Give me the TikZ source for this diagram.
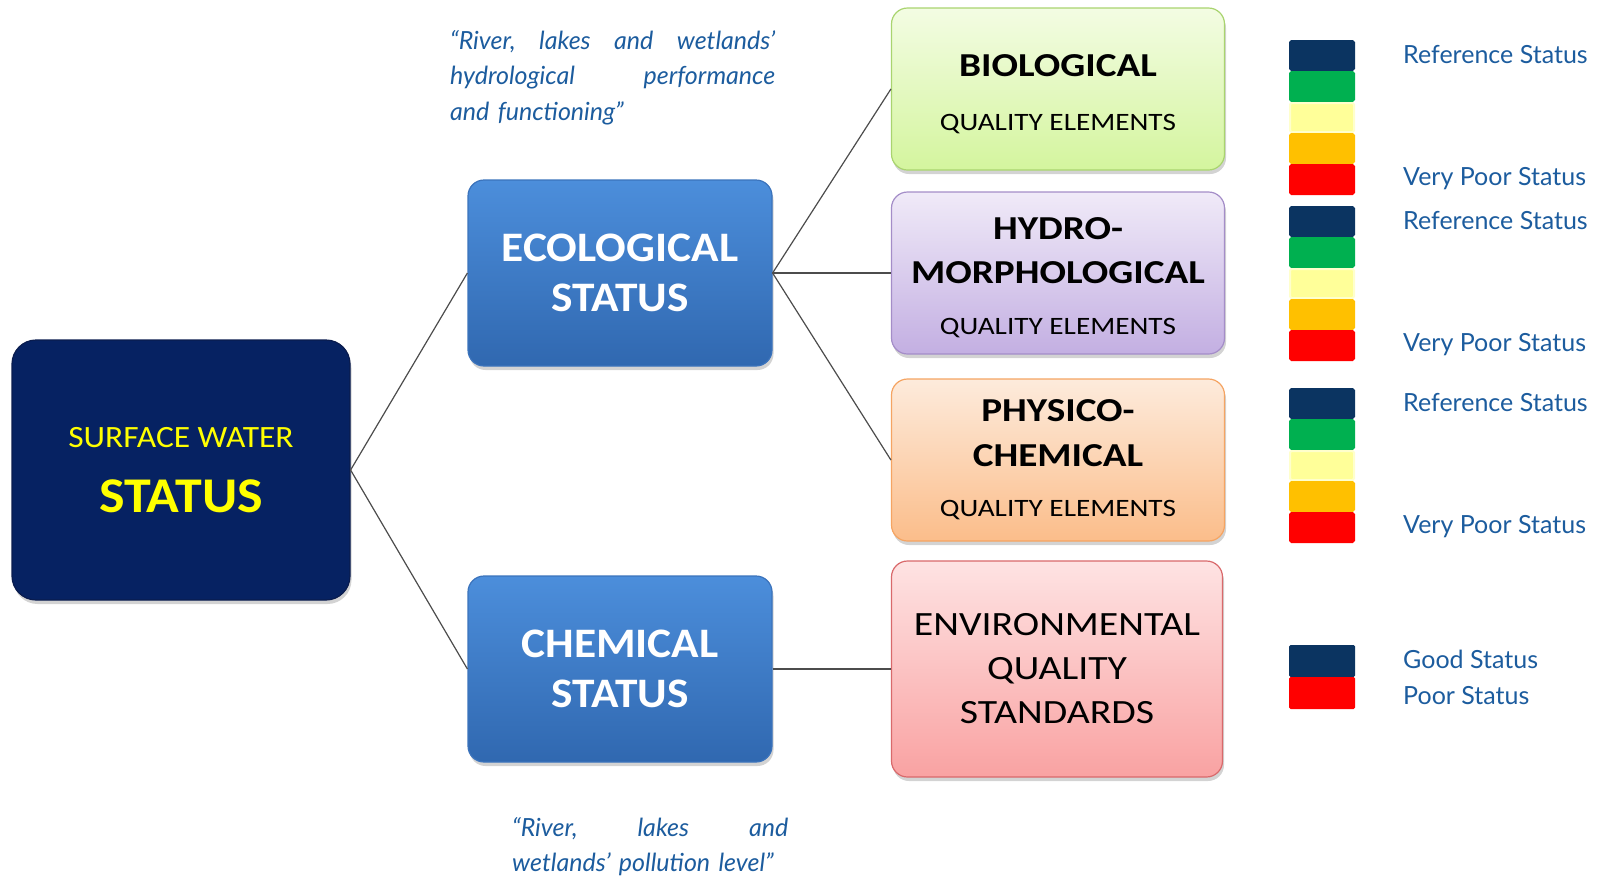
\documentclass[tikz,border=0pt]{standalone}
\usepackage{fontspec}
\setmainfont{Carlito}
\newfontfamily\statusfont{Carlito}[FakeStretch=1.08]
\newfontfamily\elemfont{Carlito}[FakeStretch=1.17]
\newfontfamily\gillfont{Lato}
\usetikzlibrary{calc,positioning,shadows}

\definecolor{surfnavy}{HTML}{062262}
\definecolor{surfline}{HTML}{0A1C4E}
\definecolor{statusyellow}{HTML}{FFFF00}
\definecolor{statustop}{HTML}{4C8EDB}
\definecolor{statusbot}{HTML}{3068B0}
\definecolor{statusline}{HTML}{3B73BC}
\definecolor{bioltop}{HTML}{F3FCE3}
\definecolor{biolbot}{HTML}{D4F59E}
\definecolor{biolline}{HTML}{A9D46F}
\definecolor{hydrotop}{HTML}{F0EAF8}
\definecolor{hydrobot}{HTML}{C3AFE2}
\definecolor{hydroline}{HTML}{A48DC8}
\definecolor{phystop}{HTML}{FDEBDC}
\definecolor{physbot}{HTML}{FBBD8A}
\definecolor{physline}{HTML}{F5A462}
\definecolor{eqstop}{HTML}{FEE3E3}
\definecolor{eqsbot}{HTML}{F9A2A2}
\definecolor{eqsline}{HTML}{D9696B}
\definecolor{refnavy}{HTML}{0B3461}
\definecolor{goodgreen}{HTML}{00B050}
\definecolor{modyellow}{HTML}{FFFF99}
\definecolor{yellowedge}{HTML}{FFFFCC}
\definecolor{pooramber}{HTML}{FFC000}
\definecolor{badred}{HTML}{FF0000}
\definecolor{textblue}{HTML}{1C5C9E}

\begin{document}
\begin{tikzpicture}[x=1pt,y=-1pt,
box/.style={draw, line width=1.2pt, rounded corners=16pt, align=center, inner sep=0pt,
  drop shadow={shadow xshift=1.5pt, shadow yshift=-4pt, opacity=0.35}},
status/.style={box, top color=statustop, bottom color=statusbot, draw=statusline, text=white,
  minimum width=304pt, minimum height=186pt, font=\statusfont\bfseries\fontsize{42}{50}\selectfont},
element/.style={box, minimum width=333pt, minimum height=162pt},
bar/.style={rounded corners=1.5pt},
legend/.style={anchor=base west, inner sep=0pt, text=textblue, font=\gillfont\fontsize{25}{28}\selectfont},
quote/.style={anchor=north west, inner sep=0pt, align=left, text=textblue,
  font=\gillfont\itshape\fontsize{25}{35.5}\selectfont},
link/.style={draw=black!70, line width=1.2pt}]

\useasboundingbox (0,0) rectangle (1600,879);

%% local variables
\def \elemx {1058}
\def \barx {1289}
\def \textx {1403}
\def \big {\bfseries\fontsize{33.5}{40}\selectfont}

%% status boxes
\node[box, fill=surfnavy, draw=surfline, rounded corners=24pt, minimum width=338pt, minimum height=260pt,
  text=statusyellow, font=\statusfont\fontsize{31}{65}\selectfont] (surface) at (181,470)
  {SURFACE WATER\\{\bfseries\fontsize{50}{60}\selectfont STATUS}};
\node[status] (ecological) at (620,273) {ECOLOGICAL\\STATUS};
\node[status] (chemical) at (620,669) {CHEMICAL\\STATUS};

%% quality element boxes
\node[element, top color=bioltop, bottom color=biolbot, draw=biolline, font=\elemfont\fontsize{25}{54}\selectfont]
  (biological) at (\elemx,89) {{\big\rule{0pt}{33pt}BIOLOGICAL}\\QUALITY ELEMENTS};
\node[element, top color=hydrotop, bottom color=hydrobot, draw=hydroline, font=\elemfont\fontsize{25}{44}\selectfont]
  (hydro) at (\elemx,273) {{\big\rule{0pt}{31pt}HYDRO-}\\{\big MORPHOLOGICAL}\\[7pt]QUALITY ELEMENTS};
\node[element, top color=phystop, bottom color=physbot, draw=physline, font=\elemfont\fontsize{25}{45}\selectfont]
  (physico) at (\elemx,460) {{\big PHYSICO-}\\{\big CHEMICAL}\\[5pt]QUALITY ELEMENTS};
\node[element, top color=eqstop, bottom color=eqsbot, draw=eqsline, minimum width=331pt, minimum height=216pt,
  font=\elemfont\fontsize{34}{44}\selectfont] (eqs) at (1057,669) {ENVIRONMENTAL\\QUALITY\\STANDARDS};

%% tree connectors
\draw[link] (surface.east) -- (ecological.west);
\draw[link] (surface.east) -- (chemical.west);
\foreach \e in {biological,hydro,physico}
      \draw[link] (ecological.east) -- (\e.west);
\draw[link] (chemical.east) -- (eqs.west);

%% class scales with their end labels
\foreach \s/\n in {40/1,206/2,388/3} {
  \foreach \c/\d [count=\i from 0] in {refnavy/refnavy,goodgreen/goodgreen,modyellow/yellowedge,pooramber/pooramber,badred/badred}
      \filldraw[bar, fill=\c, draw=\d, line width=2pt] (\barx+1,{\s+\i*31+1}) rectangle ++(64,29);
  \node[legend] (ref-\n) at (\textx,{\s+23}) {Reference Status};
  \node[legend] (verypoor-\n) at (\textx,{\s+145}) {Very Poor Status};
}

%% two-class scale
\fill[bar, refnavy] (\barx,645) rectangle ++(66,32);
\fill[bar, badred] (\barx,677) rectangle ++(66,32);
\node[legend] (good) at (\textx,668) {Good Status};
\node[legend] (poor) at (\textx,704) {Poor Status};

%% notes
\node[quote, text width=325pt] (eco-note) at (450,30)
  {\noindent“River,\hfill lakes\hfill and\hfill wetlands’\\hydrological\hfill performance\\and functioning”};
\node[quote, text width=276pt] (chem-note) at (512,817)
  {\noindent“River,\hfill lakes\hfill and\\wetlands’ pollution level”};

\end{tikzpicture}
\end{document}
